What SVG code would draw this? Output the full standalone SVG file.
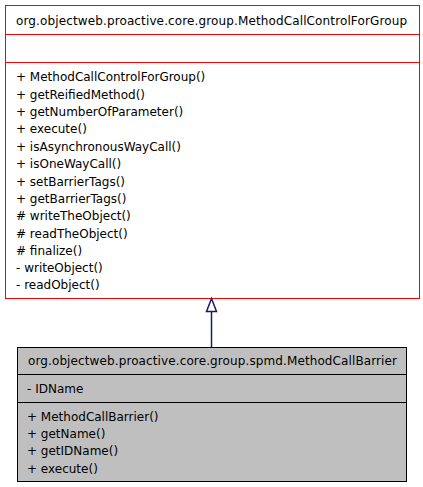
<svg xmlns="http://www.w3.org/2000/svg" width="423" height="487" viewBox="0 0 423 487">
<style>
text{font-family:"DejaVu Sans",sans-serif;font-size:12px;fill:#000}
.top rect{fill:#fff;stroke:#ff0000;stroke-width:1}
.top line{stroke:#ff0000;stroke-width:1}
.bot rect{fill:#bfbfbf;stroke:#000;stroke-width:1}
.bot line{stroke:#000;stroke-width:1}
.edge{stroke:#191970;stroke-width:1.5;fill:none}
</style>
<rect width="423" height="487" fill="#fff"/>
<g id="MethodCallControlForGroup" class="top">
<rect x="5.5" y="5.5" width="414" height="293"/>
<line x1="5.5" y1="34.5" x2="419.5" y2="34.5"/>
<line x1="5.5" y1="62.5" x2="419.5" y2="62.5"/>
<text x="211.5" y="24.5" text-anchor="middle" textLength="391" lengthAdjust="spacing">org.objectweb.proactive.core.group.MethodCallControlForGroup</text>
<text x="16" y="81">+ MethodCallControlForGroup()</text>
<text x="16" y="98.5">+ getReifiedMethod()</text>
<text x="16" y="116">+ getNumberOfParameter()</text>
<text x="16" y="133">+ execute()</text>
<text x="16" y="150.5">+ isAsynchronousWayCall()</text>
<text x="16" y="168">+ isOneWayCall()</text>
<text x="16" y="185.5">+ setBarrierTags()</text>
<text x="16" y="203">+ getBarrierTags()</text>
<text x="16" y="220"># writeTheObject()</text>
<text x="16" y="237.5"># readTheObject()</text>
<text x="16" y="254.5"># finalize()</text>
<text x="16" y="271.5">- writeObject()</text>
<text x="16" y="289">- readObject()</text>
</g>
<g id="MethodCallBarrier" class="bot">
<rect x="17.5" y="347.5" width="389" height="134"/>
<line x1="17.5" y1="374.5" x2="406.5" y2="374.5"/>
<line x1="17.5" y1="402.5" x2="406.5" y2="402.5"/>
<text x="212.5" y="365" text-anchor="middle" textLength="369" lengthAdjust="spacing">org.objectweb.proactive.core.group.spmd.MethodCallBarrier</text>
<text x="27" y="392.5">- IDName</text>
<text x="27" y="420.5">+ MethodCallBarrier()</text>
<text x="27" y="438">+ getName()</text>
<text x="27" y="455">+ getIDName()</text>
<text x="27" y="472.5">+ execute()</text>
</g>
<g id="connectors">
<path class="edge" d="M211.5,347 L211.5,312"/>
<path class="edge" d="M211.5,298.5 L216.5,311.5 L206.5,311.5 Z" fill="#fff"/>
</g>
</svg>
